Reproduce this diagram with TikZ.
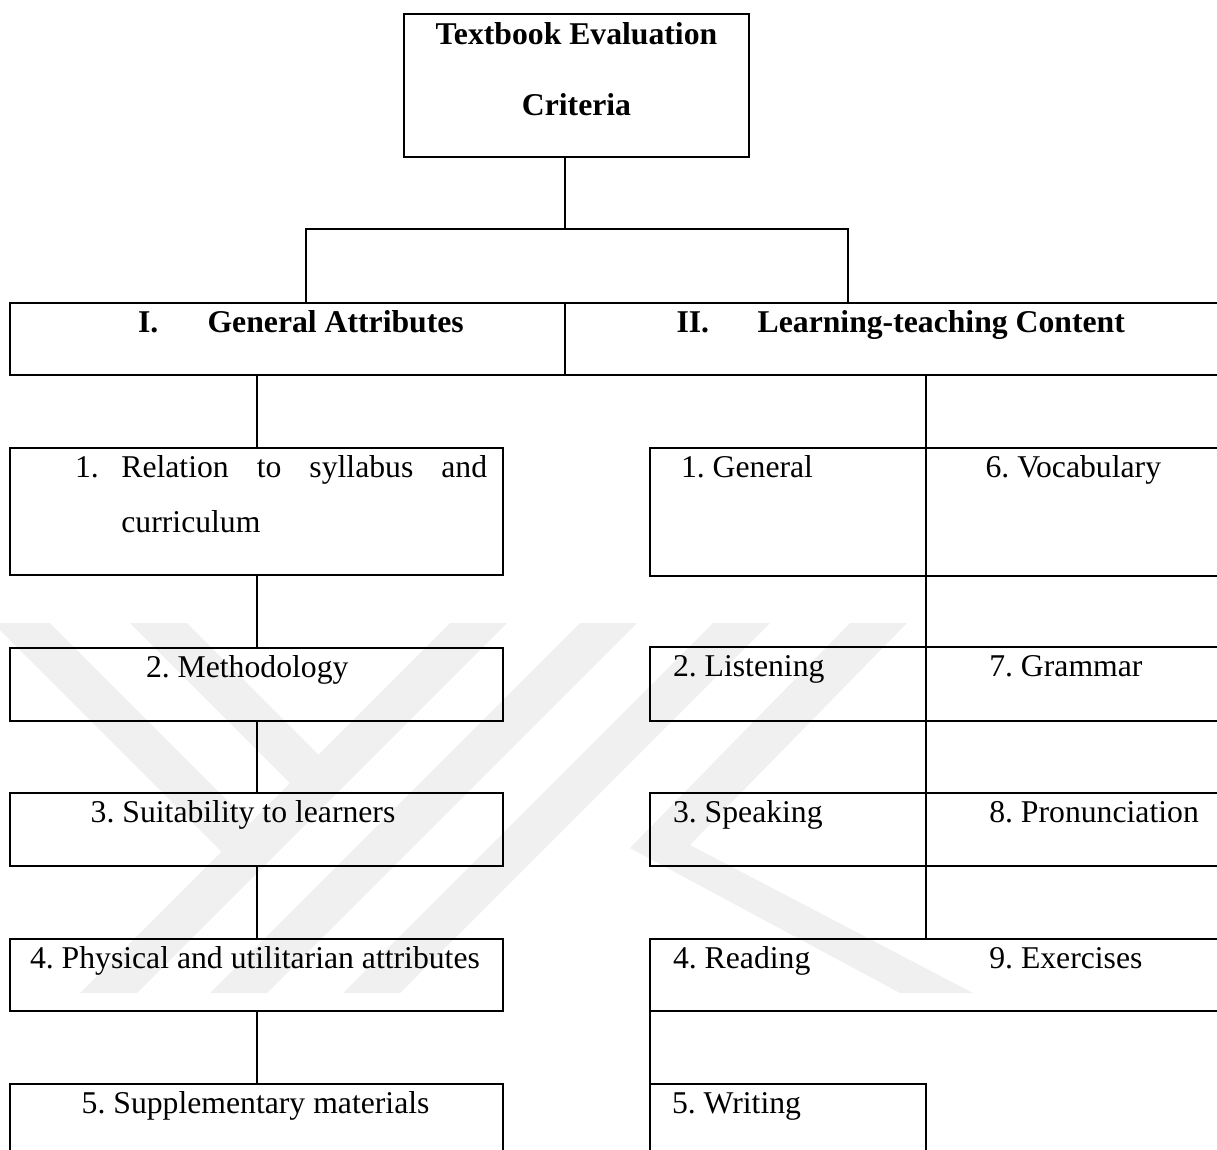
\documentclass[tikz,border=0pt]{standalone}
\usepackage{fontspec}
\setmainfont{Liberation Serif}
\usetikzlibrary{positioning}
\newcommand*{\critfont}{\fontsize{31.7pt}{54.5pt}\selectfont\frenchspacing}
\newcommand*{\critbox}[2]{\parbox[t]{#1}{\raggedright #2}}
\definecolor{wmgray}{gray}{0.94}
\tikzstyle{base}=[x=1pt, y=-1pt, line width=2pt]
\tikzstyle{crit}=[draw, anchor=north west, inner sep=0pt, outer sep=0pt, text height=29.5pt, font=\critfont]
\tikzstyle{head}=[crit, font=\critfont\bfseries]

\begin{document}
\begin{tikzpicture}[base]
    \path [use as bounding box] (0,0) rectangle (1217,1149);
    \clip (0,0) rectangle (1217,1149);
    % watermark
    \fill [wmgray] (-7,623) -- (50,623) -- (250,823) -- (221.5,851.5) -- cycle;
    \fill [wmgray] (130,623) -- (187,623) -- (318.5,754.5) -- (290,783) -- cycle;
    \fill [wmgray] (450,623) -- (507,623) -- (137,993) -- (80,993) -- cycle;
    \fill [wmgray] (580,623) -- (637,623) -- (267,993) -- (210,993) -- cycle;
    \fill [wmgray] (713,623) -- (770,623) -- (400,993) -- (343,993) -- cycle;
    \fill [wmgray] (850,623) -- (907,623) -- (690,845) -- (973,993) -- (900,993) -- (630,848) -- cycle;
    % title and the two parts
    \node [head, text height=30.3pt, text depth=112.7pt,
        font=\fontsize{31.7pt}{70.7pt}\selectfont\bfseries] (top) at (404,14)
        {\parbox[t]{345pt}{\centering Textbook Evaluation\\Criteria}};
    \node [head, text depth=42.5pt] (gen) at (10,303)
        {\critbox{555pt}{\hspace*{128pt}\makebox[69.6pt][l]{I.}General Attributes}};
    \node [head, text depth=42.5pt, right=0pt of gen] (lt)
        {\critbox{700pt}{\hspace*{111.5pt}\makebox[81.2pt][l]{II.}Learning-teaching Content}};
    \coordinate (hub) at (565,229);
    \coordinate (busl) at (306,229);
    \coordinate (busr) at (848,229);
    \draw (top.south -| hub) -- (hub);
    \draw (gen.north -| busl) -- (busl) -- (busr) -- (gen.north -| busr);
    % general attributes
    \node [crit, text depth=97.5pt] (s1) at (10,448)
        {\critbox{493pt}{\hspace*{65pt}\makebox[46.4pt][l]{1.}\makebox[365.7pt][s]{Relation to syllabus and}\\
         \hspace*{111.4pt}curriculum}};
    \node [crit, text depth=43.5pt] (s2) at (10,648) {\critbox{493pt}{\hspace*{136pt}2. Methodology}};
    \node [crit, text depth=43.5pt] (s3) at (10,793) {\critbox{493pt}{\hspace*{80.7pt}3. Suitability to learners}};
    \node [crit, text depth=42.5pt] (s4) at (10,939) {\critbox{493pt}{\hspace*{20pt}4. Physical and utilitarian attributes}};
    \node [crit, text depth=90pt] (s5) at (10,1084) {\critbox{493pt}{\hspace*{71.7pt}5. Supplementary materials}};
    \draw (gen.south -| s1.north) -- (s1.north);
    \foreach \a/\b in {s1/s2, s2/s3, s3/s4, s4/s5}
        \draw (\a.south) -- (\b.north);
    % learning-teaching content
    \node [crit, text depth=98.5pt] (r1) at (650,448) {\critbox{276pt}{\hspace*{31pt}1. General}};
    \node [crit, text depth=98.5pt, right=0pt of r1] (r6) {\critbox{400pt}{\hspace*{59.6pt}6. Vocabulary}};
    \node [crit, text depth=44.5pt] (r2) at (650,647) {\critbox{276pt}{\hspace*{23pt}2. Listening}};
    \node [crit, text depth=44.5pt, right=0pt of r2] (r7) {\critbox{400pt}{\hspace*{63.3pt}7. Grammar}};
    \node [crit, text depth=43.5pt] (r3) at (650,793) {\critbox{276pt}{\hspace*{23pt}3. Speaking}};
    \node [crit, text depth=43.5pt, right=0pt of r3] (r8) {\critbox{400pt}{\hspace*{63.3pt}8. Pronunciation}};
    \node [crit, text depth=42.5pt] (r4) at (650,939)
        {\critbox{700pt}{\hspace*{23pt}\makebox[316.3pt][l]{4. Reading}9. Exercises}};
    \node [crit, text depth=90pt] (r5) at (650,1084) {\critbox{276pt}{\hspace*{22pt}5. Writing}};
    \draw (lt.south -| r1.east) -- (r1.north east);
    \foreach \a/\b in {r1/r2, r2/r3}
        \draw (\a.south east) -- (\b.north east);
    \draw (r3.south east) -- (r4.north -| r3.east);
    \draw (r4.south west) -- (r5.north west);
\end{tikzpicture}
\end{document}
